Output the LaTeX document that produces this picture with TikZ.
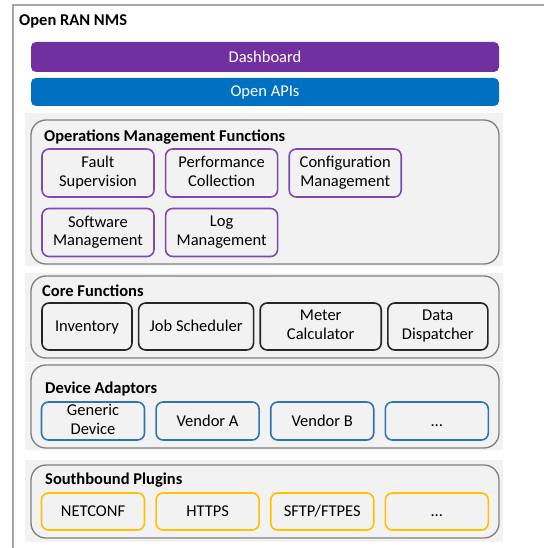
\documentclass[tikz,border=0pt]{standalone}
\usepackage{fontspec}
\setmainfont{Carlito}
\usetikzlibrary{positioning}

\definecolor{nmsgray}{HTML}{F2F2F2}
\definecolor{nmsframe}{HTML}{A6A6A6}
\definecolor{layerline}{HTML}{7F7F7F}
\definecolor{nmspurple}{HTML}{7030A0}
\definecolor{nmsblue}{HTML}{0070C0}
\definecolor{opsline}{HTML}{7B4AB3}
\definecolor{devline}{HTML}{2E75B6}
\definecolor{plugline}{HTML}{FFC000}

\newcommand\boxstrut{\rule[-3.5pt]{0pt}{17.5pt}}

\tikzset{
  bar/.style={fill=#1, rounded corners=5pt, minimum width=468pt, text=white, inner sep=0pt},
  layerbg/.style={fill=nmsgray, minimum width=478pt, inner sep=0pt},
  layer/.style={draw=layerline, fill=nmsgray, line width=1.3pt, rounded corners=15pt,
                minimum width=468pt, inner sep=0pt},
  title/.style={anchor=west, font=\fontsize{16.5}{20}\selectfont\bfseries, inner sep=0pt},
  fbox/.style={draw, rounded corners=7pt, line width=1.6pt, fill=nmsgray, align=center, inner sep=0pt,
               font=\fontsize{16.5}{18.5}\selectfont,
               execute at begin node=\boxstrut, execute at end node=\boxstrut},
  opsbox/.style={fbox, draw=opsline, minimum width=112pt, minimum height=48pt},
  corebox/.style={fbox, draw=black!85, minimum height=47pt},
  devbox/.style={fbox, draw=devline, minimum width=103pt, minimum height=38pt},
  plugbox/.style={fbox, draw=plugline, minimum width=103pt, minimum height=37pt},
}

\begin{document}
\begin{tikzpicture}[x=1pt, y=-1pt, font=\fontsize{16.5}{20.5}\selectfont]
  \useasboundingbox (0,0) rectangle (544,548);

  % outer frame
  \draw[nmsframe, line width=1.2pt] (13,548) -- (13,5) -- (544,5);
  \node[title] (nms) at (19,21) {Open RAN NMS};

  \node[bar=nmspurple, minimum height=30pt] (dash) at (265,57) {Dashboard};
  \node[bar=nmsblue,   minimum height=28pt] (apis) at (265,92) {Open APIs};

  % operations management
  \node[layerbg, minimum height=153pt] (opsbg) at (264,189.5) {};
  \node[layer,   minimum height=144pt] (ops)   at (265,192) {};
  \node[title] (opstitle) at (44,137) {Operations Management Functions};
  \node[opsbox]               (fault) at (98,173)  {Fault\\Supervision};
  \node[opsbox, right=10pt of fault] (perf)  {Performance\\Collection};
  \node[opsbox, right=10pt of perf]  (conf)  {Configuration\\Management};
  \node[opsbox]               (soft)  at (98,232.5) {Software\\Management};
  \node[opsbox, right=10pt of soft]  (logm)  {Log\\Management};

  % core functions
  \node[layerbg, minimum height=89pt] (corebg) at (264,317.5) {};
  \node[layer,   minimum height=82pt] (core)   at (265,317) {};
  \node[title] (coretitle) at (42,291) {Core Functions};
  \node[corebox, minimum width=90pt]  (inv)   at (87,326.5) {Inventory};
  \node[corebox, minimum width=115pt, right=5pt of inv]  (job)   {Job Scheduler};
  \node[corebox, minimum width=121pt, right=5pt of job]  (meter) {Meter\\Calculator};
  \node[corebox, minimum width=100pt, right=5pt of meter] (disp) {Data\\Dispatcher};

  % device adaptors
  \node[layerbg, minimum height=87pt] (devbg) at (264,406.5) {};
  \node[layer,   minimum height=83pt] (dev)   at (265,406.5) {};
  \node[title] (devtitle) at (45,389) {Device Adaptors};
  \node[devbox] (generic) at (93,421) {Generic\\Device};
  \node[devbox, right=10pt of generic] (vena) {Vendor A};
  \node[devbox, right=10pt of vena]    (venb) {Vendor B};
  \node[devbox, right=10pt of venb]    (devmore) {...};

  % southbound plugins
  \node[layerbg, minimum height=82pt] (sbbg) at (264,501) {};
  \node[layer,   minimum height=73pt] (sb)   at (265,501.5) {};
  \node[title] (sbtitle) at (45,480) {Southbound Plugins};
  \node[plugbox] (netconf) at (93,511.5) {NETCONF};
  \node[plugbox, right=10pt of netconf] (https) {HTTPS};
  \node[plugbox, right=10pt of https]   (sftp)  {SFTP/FTPES};
  \node[plugbox, right=10pt of sftp]    (plugmore) {...};
\end{tikzpicture}
\end{document}
